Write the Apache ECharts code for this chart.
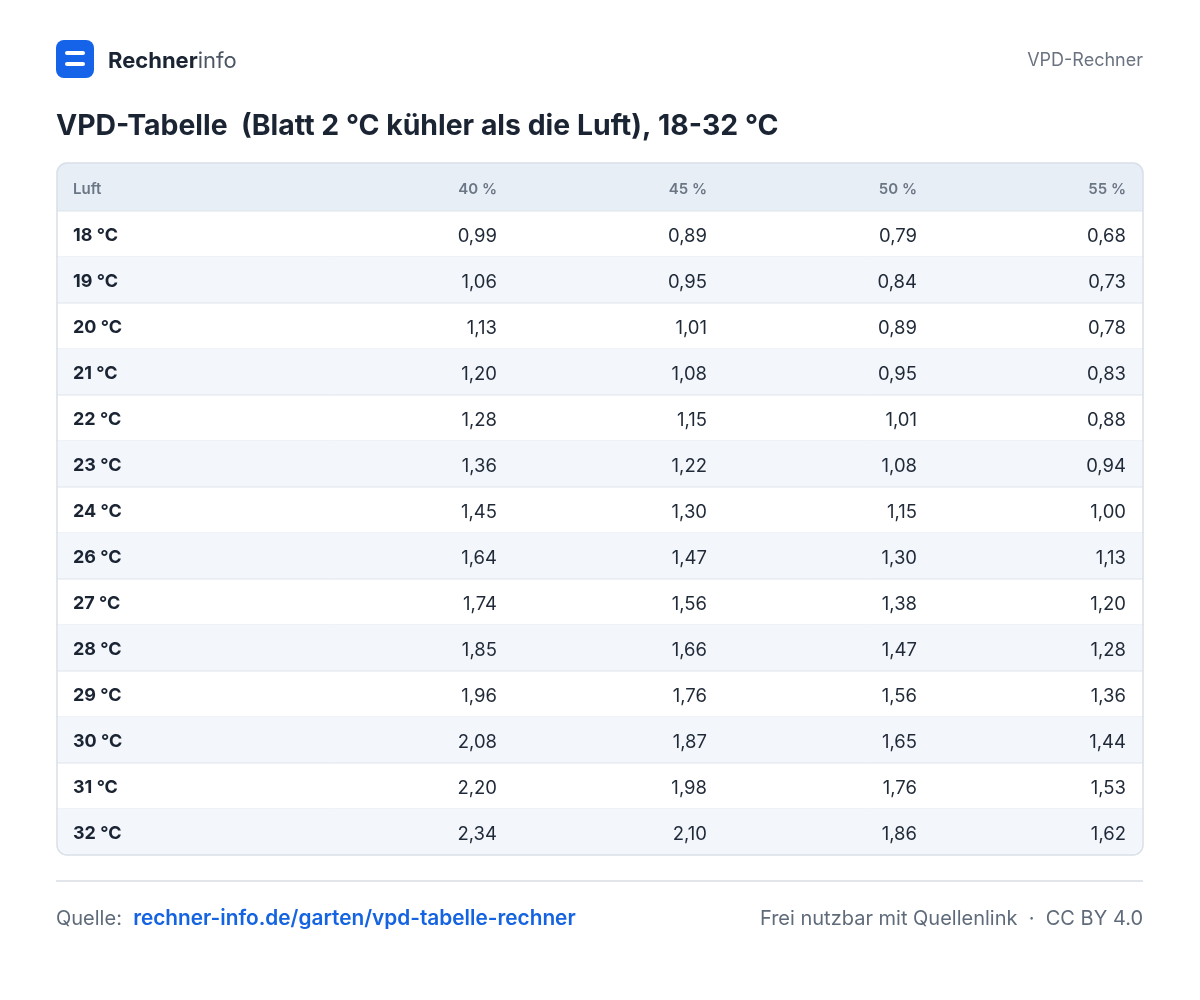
<!DOCTYPE html>
<html><head><meta charset="utf-8">
<script src="https://cdn.jsdelivr.net/npm/echarts@6/dist/echarts.min.js"></script>
<style>html,body{margin:0;background:#fff}#c{width:1200px;height:1000px}</style>
</head><body><div id="c"></div>
<script>
const rows=['18 °C','19 °C','20 °C','21 °C','22 °C','23 °C','24 °C','26 °C','27 °C','28 °C','29 °C','30 °C','31 °C','32 °C'];
const headers=['Luft','40 %','45 %','50 %','55 %'];
const rh40=['0,99','1,06','1,13','1,20','1,28','1,36','1,45','1,64','1,74','1,85','1,96','2,08','2,20','2,34'];
const rh45=['0,89','0,95','1,01','1,08','1,15','1,22','1,30','1,47','1,56','1,66','1,76','1,87','1,98','2,10'];
const rh50=['0,79','0,84','0,89','0,95','1,01','1,08','1,15','1,30','1,38','1,47','1,56','1,65','1,76','1,86'];
const rh55=['0,68','0,73','0,78','0,83','0,88','0,94','1,00','1,13','1,20','1,28','1,36','1,44','1,53','1,62'];
const cols=[rh40,rh45,rh50,rh55];
const F='Inter, "Noto Sans", sans-serif';
const colX=[16,440,650,860,1069];
const chart=echarts.init(document.getElementById('c'));
chart.setOption({
 animation:false,
 grid:{left:57,right:57,top:211,height:644},
 xAxis:{type:'value',min:0,max:1,show:false},
 yAxis:{type:'category',data:rows,inverse:true,show:false},
 series:[{type:'custom',data:rows.map((r,i)=>[0,i]),renderItem(params,api){
  const i=api.value(1);const c=api.coord([0,i]);const h=api.size([0,1])[1];
  const x0=c[0],w=1086,top=c[1]-h/2,ty=c[1]+2;
  const ch=[];
  if(i%2===1) ch.push({type:'rect',shape:{x:x0+1,y:top,width:w-2,height:h,r:i===13?[0,0,10,10]:0},style:{fill:'#f3f6fb'}});
  if(i<13) ch.push({type:'line',shape:{x1:x0,y1:top+h,x2:x0+w,y2:top+h},style:{stroke:'#dfe5ec',lineWidth:1}});
  ch.push({type:'text',x:x0+colX[0],y:ty,style:{text:rows[i],font:'bold 18px '+F,fill:'#1a2433',textVerticalAlign:'middle'}});
  for(let k=0;k<4;k++) ch.push({type:'text',x:x0+colX[k+1],y:ty,style:{text:cols[k][i],font:'18.5px '+F,fill:'#1f2937',textAlign:'right',textVerticalAlign:'middle'}});
  return {type:'group',children:ch};
 }}],
 graphic:[
  {type:'rect',shape:{x:57,y:163,width:1086,height:48,r:[10,10,0,0]},style:{fill:'#e8eef6'},z:-1},
  {type:'line',shape:{x1:57,y1:211,x2:1143,y2:211},style:{stroke:'#dfe5ec'}},
  {type:'rect',shape:{x:57,y:163,width:1086,height:692,r:10},style:{fill:'none',stroke:'#d8dfe8',lineWidth:1.5},z:10},
  ...headers.map((t,k)=>({type:'text',x:57+colX[k],y:189,style:{text:t,font:'600 15px '+F,fill:'#6b7685',textAlign:k?'right':'left',textVerticalAlign:'middle'}})),
  {type:'rect',shape:{x:56,y:40,width:38,height:38,r:8},style:{fill:'#1463e8'}},
  {type:'rect',shape:{x:65,y:51,width:20,height:4,r:2},style:{fill:'#fff'}},
  {type:'rect',shape:{x:65,y:62,width:20,height:4,r:2},style:{fill:'#fff'}},
  {type:'text',x:108,y:61,style:{text:'{a|Rechner}{b|info}',textVerticalAlign:'middle',rich:{a:{font:'bold 22px '+F,fill:'#1a2433'},b:{font:'22px '+F,fill:'#4b5563'}}}},
  {type:'text',x:1143,y:61,style:{text:'VPD-Rechner',font:'18px '+F,fill:'#6b7280',textAlign:'right',textVerticalAlign:'middle'}},
  {type:'text',x:56,y:126,style:{text:'VPD-Tabelle  (Blatt 2 °C kühler als die Luft), 18-32 °C',font:'bold 28.4px '+F,fill:'#1a2433',textVerticalAlign:'middle'}},
  {type:'line',shape:{x1:56,y1:881,x2:1143,y2:881},style:{stroke:'#d8dde3',lineWidth:1.5}},
  {type:'text',x:56,y:919,style:{text:'{a|Quelle:  }{b|rechner-info.de/garten/vpd-tabelle-rechner}',textVerticalAlign:'middle',rich:{a:{font:'20px '+F,fill:'#5f6b7a'},b:{font:'600 20.8px '+F,fill:'#1463e0'}}}},
  {type:'text',x:1143,y:919,style:{text:'Frei nutzbar mit Quellenlink  ·  CC BY 4.0',font:'20px '+F,fill:'#5f6b7a',textAlign:'right',textVerticalAlign:'middle'}}
 ]
});
</script></body></html>
